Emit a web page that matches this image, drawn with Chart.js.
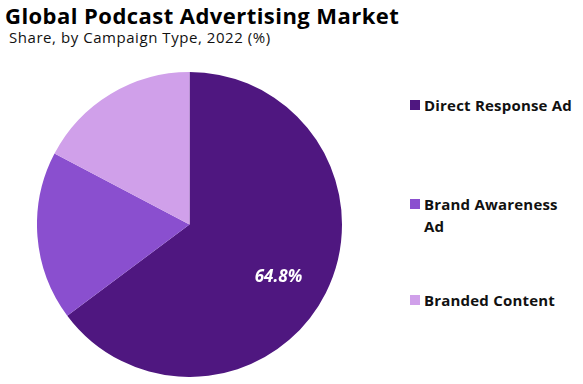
<!DOCTYPE html>
<html><head><meta charset="utf-8">
<script src="https://cdn.jsdelivr.net/npm/chart.js@4/dist/chart.umd.min.js"></script>
<style>
html,body{margin:0;padding:0;background:#fff;width:583px;height:384px;overflow:hidden;font-family:'Open Sans',sans-serif;}
#title{position:absolute;left:5px;top:0px;font-family:'Open Sans',sans-serif;font-weight:700;font-size:22px;color:#000;letter-spacing:0.45px;white-space:nowrap;}
#sub{position:absolute;left:9px;top:27px;font-family:'Open Sans',sans-serif;font-size:15px;color:#111;letter-spacing:0.55px;white-space:nowrap;}
#wrap{position:absolute;left:37px;top:72px;width:305px;height:305px;}
#legend{position:absolute;left:410px;top:0;}
.li{position:absolute;left:0;width:172px;font-family:'Open Sans',sans-serif;font-weight:700;font-size:15px;letter-spacing:0.2px;line-height:22px;color:#111;}
.sw{position:absolute;left:0;top:6px;width:10px;height:10px;}
.tx{position:absolute;left:14px;top:0;}
</style></head><body>
<div id="title">Global Podcast Advertising Market</div>
<div id="sub">Share, by Campaign Type, 2022 (%)</div>
<div id="wrap"><canvas id="c" width="305" height="305"></canvas></div>
<div id="legend"></div>
<script>
const categories = ["Direct Response Ad", "Brand Awareness Ad", "Branded Content"];
const legendLines = [["Direct Response Ad"], ["Brand Awareness", "Ad"], ["Branded Content"]];
const shares = [64.8, 17.9, 17.3];
const labelShown = [true, false, false];
const colors = ["#4f1780", "#8a4fcf", "#d0a0ea"];

const legendTops = [94, 193, 289];
const lg = document.getElementById('legend');
categories.forEach((c, i) => {
  const d = document.createElement('div');
  d.className = 'li';
  d.style.top = legendTops[i] + 'px';
  d.innerHTML = '<div class="sw" style="background:' + colors[i] + '"></div><div class="tx">' + legendLines[i].join('<br>') + '</div>';
  lg.appendChild(d);
});

const labelPlugin = {
  id: 'pieLabels',
  afterDatasetsDraw(chart) {
    const ctx = chart.ctx;
    const meta = chart.getDatasetMeta(0);
    meta.data.forEach((arc, i) => {
      if (!labelShown[i]) return;
      const mid = (arc.startAngle + arc.endAngle) / 2;
      const r = arc.outerRadius * 0.66;
      const x = arc.x + Math.cos(mid) * r - 1;
      const y = arc.y + Math.sin(mid) * r + 8;
      ctx.save();
      ctx.fillStyle = '#fff';
      ctx.font = 'italic 700 17px "Open Sans", sans-serif';
      ctx.textAlign = 'center';
      ctx.textBaseline = 'middle';
      ctx.fillText(shares[i].toFixed(1) + '%', x, y);
      ctx.restore();
    });
  }
};

new Chart(document.getElementById('c'), {
  type: 'pie',
  data: { labels: categories, datasets: [{ data: shares, backgroundColor: colors, borderWidth: 0 }] },
  options: {
    responsive: false, animation: false,
    plugins: { legend: { display: false }, tooltip: { enabled: false } },
    layout: { padding: 0 }
  },
  plugins: [labelPlugin]
});
</script>
</body></html>
